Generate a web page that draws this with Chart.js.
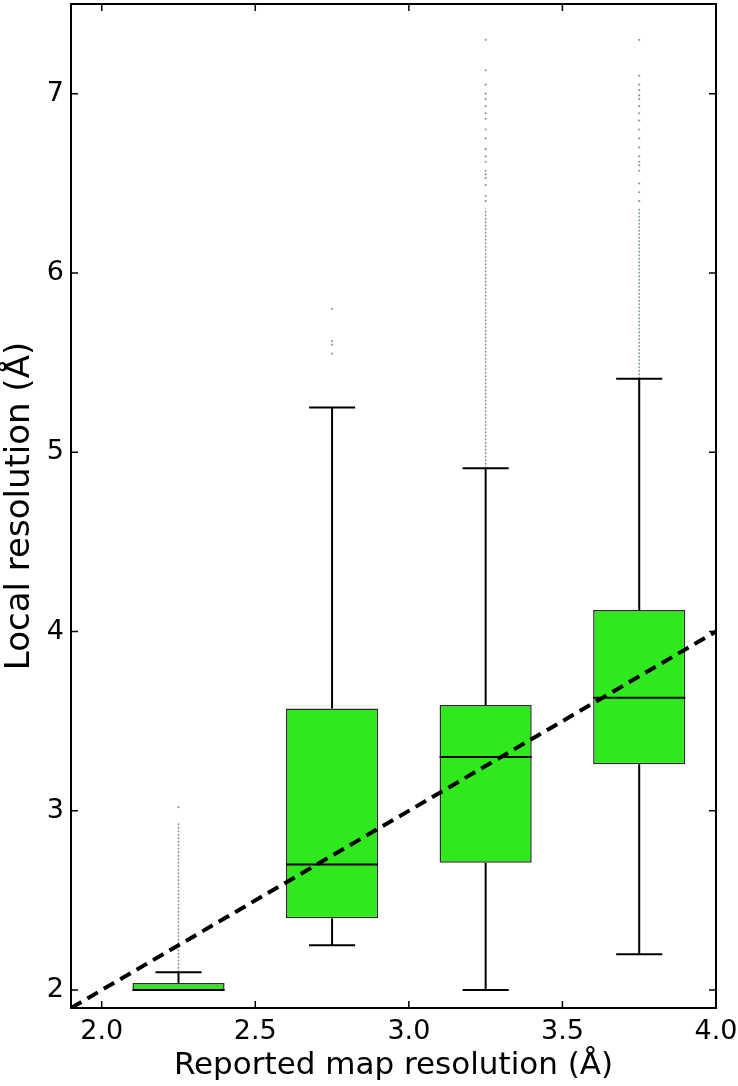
<!DOCTYPE html>
<html>
<head>
<meta charset="utf-8">
<script src="https://cdn.jsdelivr.net/npm/chart.js@4/dist/chart.umd.min.js"></script>
<style>
  html, body { margin: 0; padding: 0; background: #fff; }
  #wrap { width: 738px; height: 1086px; }
</style>
</head>
<body>
<div id="wrap"><canvas id="chart"></canvas></div>
<script>
// Box plots: reported map resolution vs local resolution
const positions = [2.25, 2.75, 3.25, 3.75];
const q1 = [2.00, 2.40, 2.71, 3.26];
const q3 = [2.04, 3.57, 3.59, 4.12];
const medians = [2.00, 2.70, 3.30, 3.63];
const whiskerLow = [2.00, 2.25, 2.00, 2.20];
const whiskerHigh = [2.10, 5.25, 4.91, 5.41];
// top of the dense run of outliers just above each upper whisker (null = none)
const denseOutlierTop = [2.93, null, 6.36, 6.36];
// individual outliers read above the dense run
const outliers = [
  [3.02],
  [5.80, 5.62, 5.60, 5.55],
  [7.30, 7.13, 7.05, 7.00, 6.97, 6.93, 6.89, 6.86, 6.80, 6.75, 6.69, 6.65, 6.62, 6.57, 6.55, 6.53, 6.49, 6.43, 6.40],
  [7.30, 7.10, 7.05, 7.02, 6.99, 6.97, 6.93, 6.89, 6.85, 6.80, 6.75, 6.70, 6.65, 6.62, 6.60, 6.57, 6.50, 6.45, 6.40],
];
const identityLine = [1.9, 4.0];
const xTicks = [2.0, 2.5, 3.0, 3.5, 4.0];
const yTicks = [2, 3, 4, 5, 6, 7];

const BOX_HALF = 0.15;
const CAP_HALF = 0.075;
const GREEN = "#30e81e";
const OUTLIER = "#8a9a9a";
const FONT = "'DejaVu Sans', 'Liberation Sans', sans-serif";

function seg(x0, y0, x1, y1, extra) {
  return Object.assign({
    type: "line",
    data: [{ x: x0, y: y0 }, { x: x1, y: y1 }],
    borderColor: "#000",
    borderWidth: 2,
    pointRadius: 0,
    fill: false,
  }, extra || {});
}

const datasets = [];
// y = x reference, drawn on top
datasets.push(seg(identityLine[0], identityLine[0], identityLine[1], identityLine[1], {
  borderWidth: 4,
  borderDash: [12, 7],
}));

positions.forEach((p, i) => {
  datasets.push(seg(p - BOX_HALF, medians[i], p + BOX_HALF, medians[i]));
  datasets.push(seg(p, q3[i], p, whiskerHigh[i]));
  datasets.push(seg(p, whiskerLow[i], p, q1[i]));
  datasets.push(seg(p - CAP_HALF, whiskerHigh[i], p + CAP_HALF, whiskerHigh[i]));
  datasets.push(seg(p - CAP_HALF, whiskerLow[i], p + CAP_HALF, whiskerLow[i]));
  if (denseOutlierTop[i] !== null) {
    datasets.push(seg(p, whiskerHigh[i], p, denseOutlierTop[i], {
      borderColor: OUTLIER,
      borderWidth: 1.5,
      borderDash: [2, 1.5],
    }));
  }
  datasets.push({
    type: "scatter",
    data: outliers[i].map((v) => ({ x: p, y: v })),
    pointRadius: 1.1,
    pointBackgroundColor: OUTLIER,
    pointBorderWidth: 0,
  });
});

datasets.push({
  type: "bar",
  data: positions.map((p, i) => ({ x: p, y: [q1[i], q3[i]] })),
  backgroundColor: GREEN,
  borderColor: "#2b2b2b",
  borderWidth: 1.5,
  borderSkipped: false,
  barPercentage: 0.6,
  categoryPercentage: 1.0,
});

// matplotlib-like frame with inward ticks on all four sides
const frameTicks = {
  id: "frameTicks",
  afterDraw(chart) {
    const { ctx, chartArea: a, scales } = chart;
    const len = 7;
    ctx.save();
    ctx.strokeStyle = "#000";
    ctx.lineWidth = 1.5;
    ctx.beginPath();
    xTicks.forEach((v) => {
      const x = scales.x.getPixelForValue(v);
      ctx.moveTo(x, a.bottom); ctx.lineTo(x, a.bottom - len);
      ctx.moveTo(x, a.top); ctx.lineTo(x, a.top + len);
    });
    yTicks.forEach((v) => {
      const y = scales.y.getPixelForValue(v);
      ctx.moveTo(a.left, y); ctx.lineTo(a.left + len, y);
      ctx.moveTo(a.right, y); ctx.lineTo(a.right - len, y);
    });
    ctx.stroke();
    ctx.lineWidth = 2;
    ctx.strokeRect(a.left, a.top, a.right - a.left, a.bottom - a.top);
    ctx.restore();
  },
};

new Chart(document.getElementById("chart"), {
  data: { datasets },
  plugins: [frameTicks],
  options: {
    responsive: true,
    maintainAspectRatio: false,
    animation: false,
    layout: { padding: { top: 2, right: 22, left: 0, bottom: 0 } },
    plugins: { legend: { display: false }, tooltip: { enabled: false } },
    scales: {
      x: {
        type: "linear",
        position: "bottom",
        offset: false,
        min: 1.9,
        max: 4.0,
        grid: { display: false, drawTicks: false, offset: false },
        border: { display: false },
        afterBuildTicks: (s) => { s.ticks = xTicks.map((v) => ({ value: v })); },
        afterFit: (s) => { s.height = 78; s.paddingLeft = 0; s.paddingRight = 0; },
        ticks: {
          color: "#000",
          padding: 8,
          font: { family: FONT, size: 27 },
          callback: (v) => Number(v).toFixed(1),
        },
        title: {
          display: true,
          text: "Reported map resolution (Å)",
          color: "#000",
          font: { family: FONT, size: 31 },
          padding: { top: 0, bottom: 1 },
        },
      },
      y: {
        type: "linear",
        min: 1.9,
        max: 7.5,
        grid: { display: false, drawTicks: false },
        border: { display: false },
        afterBuildTicks: (s) => { s.ticks = yTicks.map((v) => ({ value: v })); },
        afterFit: (s) => { s.width = 71; s.paddingTop = 0; s.paddingBottom = 0; },
        ticks: {
          color: "#000",
          padding: 7,
          font: { family: FONT, size: 27 },
          callback: (v) => String(v),
        },
        title: {
          display: true,
          text: "Local resolution (Å)",
          color: "#000",
          font: { family: FONT, size: 34 },
          padding: { top: 0, bottom: 0 },
        },
      },
    },
  },
});
</script>
</body>
</html>
